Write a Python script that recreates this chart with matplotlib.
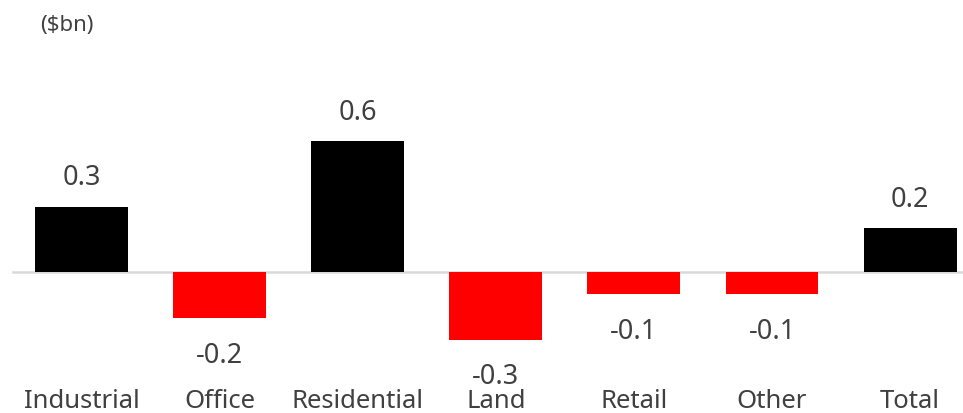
import matplotlib.pyplot as plt
import numpy as np

# categories and values ($bn)
categories = ["Industrial", "Office", "Residential", "Land", "Retail", "Other", "Total"]
values = [0.3, -0.21, 0.6, -0.31, -0.1, -0.1, 0.2]

plt.rcParams['font.family'] = ['Noto Sans', 'DejaVu Sans']
text_color = "#404040"

fig = plt.figure(figsize=(9.63, 4.14), dpi=100)
ax = fig.add_axes([0, 0, 1, 1])

x = np.arange(len(categories))
colors = ["black" if v >= 0 else "#ff0000" for v in values]
ax.bar(x, values, width=0.673, color=colors, zorder=3)

# zero line
ax.axhline(0, xmin=13 / 963, xmax=1, color="#d9d9d9", linewidth=1.8, zorder=2)

# value labels
for xi, v in zip(x, values):
    if v >= 0:
        ax.annotate(f"{v:.1f}", (xi, v), xytext=(0, 21), textcoords="offset points",
                    ha="center", va="center", fontsize=19.5, color=text_color)
    else:
        ax.annotate(f"{v:.1f}", (xi, v), xytext=(0, -26.5), textcoords="offset points",
                    ha="center", va="center", fontsize=19.5, color=text_color)

# category labels along the bottom
for xi, c in zip(x, categories):
    ax.text(xi, -0.59, c, ha="center", va="center", fontsize=18.5, color=text_color)

fig.text(40 / 963, 1 - 26 / 414, "($bn)", ha="left", va="center", fontsize=16, color=text_color)

ax.set_xlim(-0.590, 6.383)
ax.set_ylim(-0.647, 1.252)
ax.axis("off")

fig.savefig("out.png", dpi=100)
